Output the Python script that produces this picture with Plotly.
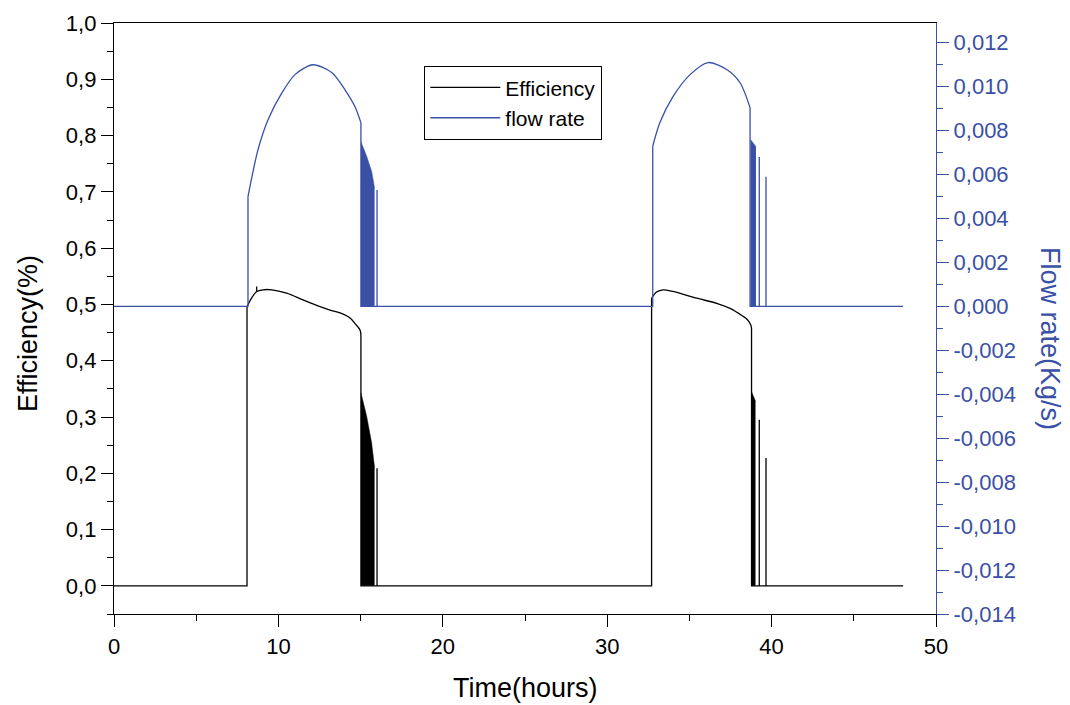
import plotly.graph_objects as go

# ---------------- data ----------------
# Efficiency: smooth daytime arcs (time in hours, efficiency fraction)
eff_arc1_t = [8.09, 8.4, 8.68, 9.06, 9.6, 10.5, 11.5, 12.53, 13.14, 13.75, 14.36, 14.66, 14.96, 15.02]
eff_arc1_v = [0.496, 0.513, 0.523, 0.526, 0.526, 0.520, 0.508, 0.496, 0.490, 0.485, 0.476, 0.466, 0.455, 0.446]
eff_arc2_t = [32.7, 33.0, 33.4, 34.0, 35.44, 36.66, 37.47, 38.26, 38.49, 38.73, 38.78]
eff_arc2_v = [0.511, 0.522, 0.526, 0.523, 0.511, 0.502, 0.493, 0.479, 0.474, 0.464, 0.458]
# Efficiency: night-time / step parts (straight segments)
eff_step1_t = [0, 8.09, 8.09]
eff_step1_v = [0, 0, 0.496]
eff_blip_t = [8.68, 8.68]
eff_blip_v = [0.523, 0.532]
eff_step2_t = [15.02, 15.02, 16.0, 16.0, 16.0, 32.7, 32.7]
eff_step2_v = [0.446, 0, 0, 0.209, 0, 0, 0.511]
eff_step3_t = [38.78, 38.78, 39.25, 39.25, 39.25, 39.66, 39.66, 39.66, 48.0]
eff_step3_v = [0.458, 0, 0, 0.295, 0, 0, 0.227, 0, 0]
# Efficiency dense oscillation envelopes
eff_env1_t = [15.02, 15.37, 15.67, 15.83, 15.85]
eff_env1_v = [0.343, 0.301, 0.254, 0.21, 0.21]
eff_env2_t = [38.78, 38.9, 39.02]
eff_env2_v = [0.345, 0.336, 0.328]

# Flow rate (Kg/s): smooth arcs
flow_arc1_t = [8.15, 8.39, 8.76, 9.37, 10.22, 11.01, 12.1, 13.26, 14.05, 14.66, 15.02]
flow_arc1_v = [0.0050, 0.0059, 0.00714, 0.0085, 0.00973, 0.01055, 0.0110, 0.01064, 0.00986, 0.00909, 0.00836]
flow_arc2_t = [32.77, 33.2, 34.0, 35.04, 36.13, 37.29, 38.08, 38.69]
flow_arc2_v = [0.00729, 0.00836, 0.00955, 0.01055, 0.0111, 0.01077, 0.01018, 0.00905]
# Flow rate: step parts
flow_step1_t = [0, 8.15, 8.15]
flow_step1_v = [0, 0, 0.0050]
flow_step2_t = [15.02, 15.02, 16.0, 16.0, 16.0, 32.77, 32.77]
flow_step2_v = [0.00836, 0, 0, 0.0053, 0, 0, 0.00729]
flow_step3_t = [38.69, 38.69, 39.25, 39.25, 39.25, 39.66, 39.66, 39.66, 48.0]
flow_step3_v = [0.00905, 0, 0, 0.0068, 0, 0, 0.0059, 0, 0]
# Flow rate dense oscillation envelopes
flow_env1_t = [15.02, 15.37, 15.67, 15.83, 15.85]
flow_env1_v = [0.0075, 0.00683, 0.00615, 0.0054, 0.0054]
flow_env2_t = [38.72, 38.9, 39.05]
flow_env2_v = [0.0076, 0.0074, 0.00727]

# tick labels
x_ticks = [0, 10, 20, 30, 40, 50]
y_ticks = [0.0, 0.1, 0.2, 0.3, 0.4, 0.5, 0.6, 0.7, 0.8, 0.9, 1.0]
y_ticktext = ["0,0", "0,1", "0,2", "0,3", "0,4", "0,5", "0,6", "0,7", "0,8", "0,9", "1,0"]
y2_ticks = [-0.014, -0.012, -0.010, -0.008, -0.006, -0.004, -0.002, 0.0,
            0.002, 0.004, 0.006, 0.008, 0.010, 0.012]
y2_ticktext = ["-0,014", "-0,012", "-0,010", "-0,008", "-0,006", "-0,004", "-0,002", "0,000",
               "0,002", "0,004", "0,006", "0,008", "0,010", "0,012"]
y2_minor = [-0.013, -0.011, -0.009, -0.007, -0.005, -0.003, -0.001,
            0.001, 0.003, 0.005, 0.007, 0.009, 0.011]

BLUE = "#3a50a6"
FONT = "Liberation Sans, Arial, sans-serif"
LW = 1.3

fig = go.Figure()


def add_line(x, y, color, yaxis, name=None, spline=False):
    fig.add_trace(go.Scatter(
        x=x, y=y, mode="lines", name=name, showlegend=name is not None,
        legendgroup=color, yaxis=yaxis, hoverinfo="skip",
        line=dict(color=color, width=LW, shape="spline" if spline else "linear",
                  smoothing=0.8)))


def add_fill(x, y, color, yaxis):
    fig.add_trace(go.Scatter(x=x, y=y, mode="lines", fill="tozeroy", yaxis=yaxis,
                             line=dict(color=color, width=0.5), fillcolor=color,
                             showlegend=False, hoverinfo="skip"))


# efficiency
add_fill(eff_env1_t, eff_env1_v, "black", "y")
add_fill(eff_env2_t, eff_env2_v, "black", "y")
add_line(eff_step1_t, eff_step1_v, "black", "y", name="Efficiency")
add_line(eff_arc1_t, eff_arc1_v, "black", "y", spline=True)
add_line(eff_blip_t, eff_blip_v, "black", "y")
add_line(eff_step2_t, eff_step2_v, "black", "y")
add_line(eff_arc2_t, eff_arc2_v, "black", "y", spline=True)
add_line(eff_step3_t, eff_step3_v, "black", "y")

# flow rate
add_fill(flow_env1_t, flow_env1_v, BLUE, "y2")
add_fill(flow_env2_t, flow_env2_v, BLUE, "y2")
add_line(flow_step1_t, flow_step1_v, BLUE, "y2", name="flow rate")
add_line(flow_arc1_t, flow_arc1_v, BLUE, "y2", spline=True)
add_line(flow_step2_t, flow_step2_v, BLUE, "y2")
add_line(flow_arc2_t, flow_arc2_v, BLUE, "y2", spline=True)
add_line(flow_step3_t, flow_step3_v, BLUE, "y2")

L, R, T, B = 114, 134, 23, 91
W, H = 1070, 705
pw, ph = W - L - R, H - T - B


def px(xp, yp):
    return (xp - L) / pw, (H - B - yp) / ph


ax_x, ax_y = px(525, 688)
ay_x, ay_y = px(28, 334)
ar_x, ar_y = px(1050, 338)

fig.update_layout(
    width=W, height=H,
    margin=dict(l=L, r=R, t=T, b=B),
    paper_bgcolor="white", plot_bgcolor="white",
    font=dict(family=FONT, size=22, color="black"),
    xaxis=dict(range=[0, 50], tickmode="array", tickvals=x_ticks,
               ticktext=[str(v) for v in x_ticks],
               showline=True, linecolor="black", linewidth=LW, mirror=True,
               ticks="outside", ticklen=12, tickwidth=LW, tickcolor="black",
               minor=dict(dtick=5, tick0=0, ticks="outside", ticklen=6, tickcolor="black",
                          tickwidth=LW, showgrid=False),
               showgrid=False, zeroline=False),
    yaxis=dict(range=[-0.05, 1.0], tickmode="array", tickvals=y_ticks, ticktext=y_ticktext,
               showline=True, linecolor="black", linewidth=LW,
               ticks="outside", ticklen=12, tickwidth=LW, tickcolor="black",
               minor=dict(dtick=0.05, tick0=0, ticks="outside", ticklen=6, tickcolor="black",
                          tickwidth=LW, showgrid=False),
               showgrid=False, zeroline=False),
    yaxis2=dict(range=[-0.014, 0.0129], overlaying="y", side="right", anchor="x",
                tickmode="array", tickvals=y2_ticks, ticktext=y2_ticktext,
                tickfont=dict(color=BLUE),
                showline=True, linecolor=BLUE, linewidth=LW,
                ticks="outside", ticklen=12, tickwidth=LW, tickcolor=BLUE,
                minor=dict(tickmode="array", tickvals=y2_minor, ticks="outside", ticklen=6,
                           tickcolor=BLUE, tickwidth=LW, showgrid=False),
                showgrid=False, zeroline=False),
    legend=dict(x=(424 - L) / pw, y=(H - B - 66) / ph, xanchor="left", yanchor="top",
                bordercolor="black", borderwidth=1.3, bgcolor="white",
                font=dict(size=21, color="black"), itemwidth=70,
                tracegroupgap=0),
    annotations=[
        dict(text="Time(hours)", x=ax_x, y=ax_y, xref="paper", yref="paper",
             xanchor="center", yanchor="middle", showarrow=False,
             font=dict(size=27, color="black")),
        dict(text="Efficiency(%)", x=ay_x, y=ay_y, xref="paper", yref="paper",
             xanchor="center", yanchor="middle", showarrow=False, textangle=-90,
             font=dict(size=27, color="black")),
        dict(text="Flow rate(Kg/s)", x=ar_x, y=ar_y, xref="paper", yref="paper",
             xanchor="center", yanchor="middle", showarrow=False, textangle=90,
             font=dict(size=27, color=BLUE)),
    ],
)

fig.write_html("out.html")
